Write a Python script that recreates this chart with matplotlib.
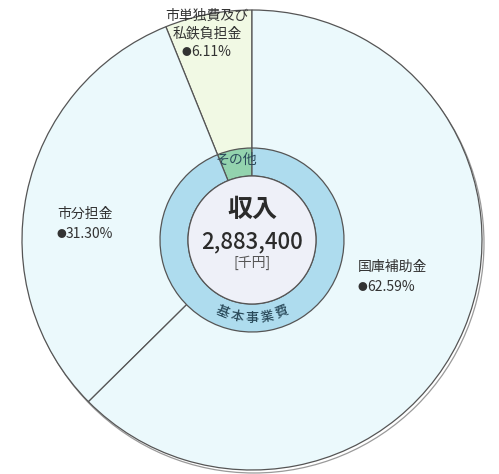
import numpy as np
import matplotlib
matplotlib.use("Agg")
import matplotlib.pyplot as plt
from matplotlib.patches import Circle

plt.rcParams['font.family'] = ['Noto Sans CJK JP', 'DejaVu Sans']

# outer pie : revenue sources (%)
outer_labels = ["市単独費及び\n私鉄負担金", "市分担金", "国庫補助金"]
outer_shares = [6.11, 31.30, 62.59]
outer_colors = ["#f1f9e4", "#ebf9fc", "#ebf9fc"]

# inner ring
inner_labels = ["その他", "基本事業費"]
inner_shares = [6.11, 93.89]
inner_colors = ["#93d3ae", "#aedcee"]

total_text = "2,883,400"
unit_text = "[千円]"
title_text = "収入"

W, H = 499, 474
cx, cy = 252, 234
R = 230
r_ring = 92
r_in = 64

fig = plt.figure(figsize=(W / 100, H / 100), dpi=100)
ax = fig.add_axes([0, 0, 1, 1])

# shadow edge lower right
ax.add_patch(Circle((cx + 2, cy - 3), R, facecolor="white", edgecolor="#9a9a9a",
                    linewidth=0.9, zorder=0))

ax.pie(outer_shares, colors=outer_colors, startangle=90, counterclock=True,
       radius=R, center=(cx, cy),
       wedgeprops=dict(edgecolor="#555555", linewidth=0.9))
ax.pie(inner_shares, colors=inner_colors, startangle=90, counterclock=True,
       radius=r_ring, center=(cx, cy),
       wedgeprops=dict(width=r_ring - r_in, edgecolor="#555555", linewidth=0.9))
ax.add_patch(Circle((cx, cy), r_in, facecolor="#eef0f8", edgecolor="#555555",
                    linewidth=0.9, zorder=5))

# outer labels: name, then bullet + percent
lab_kw = dict(fontsize=10, color="#333333", zorder=6)
pos = [(207, H - 25, "center"), (57, H - 214, "left"), (358, H - 267, "left")]
for (x, y, ha), name, v in zip(pos, outer_labels, outer_shares):
    ax.text(x, y, name, ha=ha, va="center", linespacing=1.3, **lab_kw)
    yl = y - 9 - 18 if "\n" in name else y - 20
    xp = x - 25 if ha == "center" else x
    ax.text(xp, yl, "●", ha="left", va="center", fontsize=7, color="#333333", zorder=6)
    ax.text(xp + 9, yl, "%.2f%%" % v, ha="left", va="center", **lab_kw)

# centre
ax.text(cx, H - 210, title_text, ha="center", va="center", fontsize=18,
        fontweight="bold", color="#2b2b2b", zorder=6)
ax.text(cx, H - 242, total_text, ha="center", va="center", fontsize=16,
        fontweight="medium", color="#2b2b2b", zorder=6)
ax.text(cx, H - 263, unit_text, ha="center", va="center", fontsize=10,
        color="#555555", zorder=6)

# ring labels
ax.text(236, H - 160, inner_labels[0], ha="center", va="center", fontsize=10,
        color="#2a4a5a", zorder=6)
rm = (r_ring + r_in) / 2
word = inner_labels[1]
angs = np.linspace(248, 292, len(word))
for ch, a in zip(word, angs):
    t = np.radians(a)
    ax.text(cx + rm * np.cos(t), cy + rm * np.sin(t), ch, ha="center", va="center",
            rotation=a + 90 - 360, fontsize=9.5, fontweight="medium", color="#2a4a5a",
            zorder=6, rotation_mode="anchor")

ax.set_xlim(0, W)
ax.set_ylim(0, H)
ax.set_aspect("equal")
ax.axis("off")

fig.savefig("out.png", dpi=100, facecolor="white")
